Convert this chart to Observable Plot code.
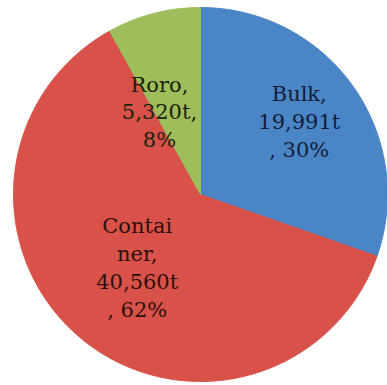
<!DOCTYPE html>
<html><head><meta charset="utf-8">
<script src="https://cdn.jsdelivr.net/npm/d3@7"></script>
<script src="https://cdn.jsdelivr.net/npm/@observablehq/plot@0.6"></script>
<style>html,body{margin:0;padding:0;background:#fff;overflow:hidden}</style>
</head><body><div id="chart"></div>
<script>
// ---- data ----
const categories = ["Bulk", "Container", "Roro"];
const tonnes = [19991, 40560, 5320];
const labelLines = [
  ["Bulk,", "19,991t", ", 30%"],
  ["Contai", "ner,", "40,560t", ", 62%"],
  ["Roro,", "5,320t,", "8%"]
];
const sliceColors = ["#4a85c6", "#d8524a", "#9dbe5b"];
const textColors = ["#111d36", "#2e0f0b", "#1a220c"];

// ---- label placement (Excel best-fit look) ----
const labelShiftDeg = [-1.5, 1.5, -11.5];
const labelRadius = [0.66, 0.51, 0.50];

const arcs = d3.pie().sort(null).value(d => d)(tonnes);

const slicePts = [];
arcs.forEach((a, i) => {
  const k = categories[i];
  slicePts.push({x: 0, y: 0, k});
  const n = Math.max(4, Math.ceil((a.endAngle - a.startAngle) / (Math.PI / 360)));
  for (let j = 0; j <= n; j++) {
    const t = a.startAngle + (a.endAngle - a.startAngle) * j / n;
    slicePts.push({x: Math.sin(t), y: Math.cos(t), k});
  }
  slicePts.push({x: 0, y: 0, k});
});

const labels = arcs.map((a, i) => {
  const t = (a.startAngle + a.endAngle) / 2 + labelShiftDeg[i] * Math.PI / 180;
  return {
    x: Math.sin(t) * labelRadius[i],
    y: Math.cos(t) * labelRadius[i],
    text: labelLines[i].join("\n"),
    k: categories[i]
  };
});

const colorOf = Object.fromEntries(categories.map((c, i) => [c, sliceColors[i]]));
const textColorOf = Object.fromEntries(categories.map((c, i) => [c, textColors[i]]));

const chart = Plot.plot({
  width: 387,
  height: 385,
  margin: 0,
  x: {domain: [-1, 1], range: [13, 387], axis: null},
  y: {domain: [-1, 1], range: [381, 7], axis: null},
  style: {background: "white"},
  marks: [
    Plot.line(slicePts, {x: "x", y: "y", z: "k", fill: d => colorOf[d.k], stroke: d => colorOf[d.k], strokeWidth: 1, curve: "linear"}),
    Plot.text(labels, {x: "x", y: "y", text: "text", fill: d => textColorOf[d.k], fontSize: 21, fontFamily: "DejaVu Serif", lineHeight: 1.33})
  ]
});
document.getElementById("chart").appendChild(chart);
</script>
</body></html>
